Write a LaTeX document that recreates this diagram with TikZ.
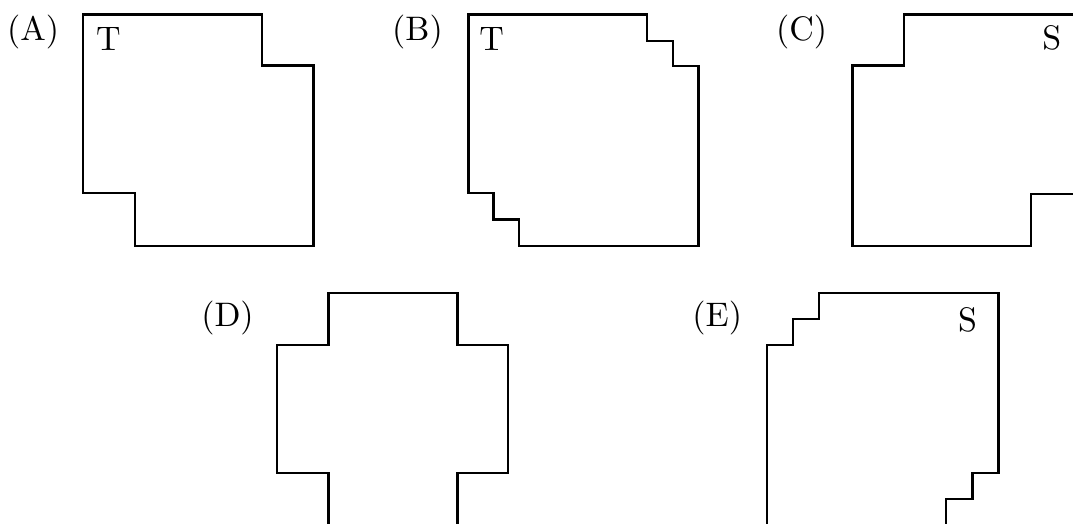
\documentclass[tikz,border=0pt]{standalone}
\usepackage{graphicx}
\newcommand{\bigtxt}[1]{\scalebox{3.4}{\fontsize{10}{12}\selectfont #1}}
\begin{document}
\begin{tikzpicture}[x=1pt,y=-1pt,
  outline/.style={line width=2.4pt,line join=miter},
  txt/.style={anchor=base,inner sep=0pt}]
\clip (0,0) rectangle (1073,523);
\fill[white] (0,0) rectangle (1073,523);
% (A)
\node[txt] (labA) at (33,40.7) {\bigtxt{(A)}};
\draw[outline] (82.7,14.3) -- (262,14.3) -- (262,65.3) -- (313.3,65.3) -- (313.3,246)
  -- (135,246) -- (135,192.7) -- (82.7,192.7) -- cycle;
\node[txt] (tA) at (108.5,50.3) {\bigtxt{T}};
% (B)
\node[txt] (labB) at (417.5,40.7) {\bigtxt{(B)}};
\draw[outline] (468.3,14.3) -- (647,14.3) -- (647,40.7) -- (673,40.7) -- (673,65.7)
  -- (698.3,65.7) -- (698.3,246) -- (519,246) -- (519,219.3) -- (493.3,219.3)
  -- (493.3,192.7) -- (468.3,192.7) -- cycle;
\node[txt] (tB) at (491.7,50.5) {\bigtxt{T}};
% (C)
\node[txt] (labC) at (801.7,40.9) {\bigtxt{(C)}};
\draw[outline] (904,14.3) -- (1082.3,14.3) -- (1082.3,194) -- (1030.7,194) -- (1030.7,246)
  -- (852.3,246) -- (852.3,65.3) -- (904,65.3) -- cycle;
\node[txt] (sC) at (1051.7,49.3) {\bigtxt{S}};
% (D)
\node[txt] (labD) at (227.5,326.7) {\bigtxt{(D)}};
\draw[outline] (328.3,292.7) -- (457.3,292.7) -- (457.3,345) -- (507.7,345) -- (507.7,472.7)
  -- (457.3,472.7) -- (457.3,527) -- (328.3,527) -- (328.3,472.7) -- (276.7,472.7)
  -- (276.7,345) -- (328.3,345) -- cycle;
% (E)
\node[txt] (labE) at (717.2,326.7) {\bigtxt{(E)}};
\draw[outline] (819,292.7) -- (998.3,292.7) -- (998.3,472.7) -- (972.3,472.7) -- (972.3,498.7)
  -- (946,498.7) -- (946,527) -- (767,527) -- (767,345) -- (793,345) -- (793,319)
  -- (819,319) -- cycle;
\node[txt] (sE) at (967.5,331.3) {\bigtxt{S}};
\end{tikzpicture}
\end{document}
